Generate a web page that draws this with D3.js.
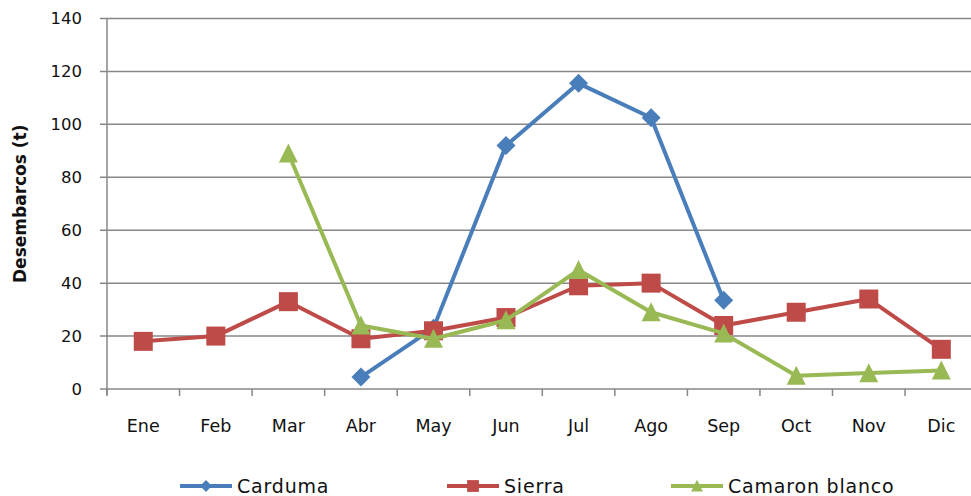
<!DOCTYPE html>
<html>
<head>
<meta charset="utf-8">
<script src="https://cdn.jsdelivr.net/npm/d3@7"></script>
<style>
  body { margin: 0; background: #fff; }
  svg { display: block; font-family: "DejaVu Sans", "Lato", sans-serif; }
</style>
</head>
<body>
<div id="chart"></div>
<script>
// data
var months = ["Ene", "Feb", "Mar", "Abr", "May", "Jun", "Jul", "Ago", "Sep", "Oct", "Nov", "Dic"];
var carduma = [null, null, null, 4.5, 23, 92, 115.5, 102.5, 33.5, null, null, null];
var sierra = [18, 20, 33, 19, 22, 27, 39, 40, 24, 29, 34, 15];
var camaron = [null, null, 89, 24, 19, 26, 45, 29, 21, 5, 6, 7];
var yTicks = [0, 20, 40, 60, 80, 100, 120, 140];

// custom marker shapes (Excel-ish)
function diamond(r) {
  return "M0," + (-r) + "L" + r + ",0L0," + r + "L" + (-r) + ",0Z";
}
function square(r) {
  return "M" + (-r) + "," + (-r) + "H" + r + "V" + r + "H" + (-r) + "Z";
}
function triangle(r) {
  return "M0," + (-r * 1.05) + "L" + r + "," + (r * 0.95) + "L" + (-r) + "," + (r * 0.95) + "Z";
}

var series = [
  {name: "Carduma", values: carduma, color: "#4a7ebb", shape: diamond, r: 9.5},
  {name: "Sierra", values: sierra, color: "#be4b48", shape: square, r: 9.5},
  {name: "Camaron blanco", values: camaron, color: "#98b954", shape: triangle, r: 9.5}
];

var width = 971, height = 496;
var margin = {top: 18.5, left: 107};

var svg = d3.select("#chart").append("svg")
    .attr("width", width)
    .attr("height", height);

var x = d3.scaleBand()
  .domain(months)
  .range([margin.left, margin.left + 12 * 72.55]);

var y = d3.scaleLinear()
  .domain([0, 140])
  .range([389, margin.top]);

// gridlines
svg.append("g")
  .selectAll("line")
  .data(yTicks)
  .enter().append("line")
    .attr("x1", margin.left - 7)
    .attr("x2", width)
    .attr("y1", function(d) { return y(d); })
    .attr("y2", function(d) { return y(d); })
    .attr("stroke", "#878787")
    .attr("stroke-width", 1.5);

// y axis line
svg.append("line")
  .attr("x1", margin.left).attr("x2", margin.left)
  .attr("y1", y(140)).attr("y2", y(0) + 6)
  .attr("stroke", "#878787").attr("stroke-width", 1.5);

// y tick labels
svg.append("g")
  .selectAll("text")
  .data(yTicks)
  .enter().append("text")
    .attr("x", margin.left - 25)
    .attr("y", function(d) { return y(d); })
    .attr("dy", "0.36em")
    .attr("text-anchor", "end")
    .attr("font-size", 16.5)
    .attr("fill", "#111")
    .text(function(d) { return d; });

// x ticks between categories
var bounds = months.map(function(m) { return x(m); }).concat([x.range()[1]]);
svg.append("g")
  .selectAll("line")
  .data(bounds)
  .enter().append("line")
    .attr("x1", function(d) { return d; })
    .attr("x2", function(d) { return d; })
    .attr("y1", y(0))
    .attr("y2", y(0) + 7)
    .attr("stroke", "#878787")
    .attr("stroke-width", 1.5);

// x labels
svg.append("g")
  .selectAll("text")
  .data(months)
  .enter().append("text")
    .attr("x", function(d) { return x(d) + x.bandwidth() / 2; })
    .attr("y", 432)
    .attr("text-anchor", "middle")
    .attr("font-size", 17.5)
    .attr("fill", "#111")
    .text(function(d) { return d; });

// y axis title
svg.append("text")
  .attr("transform", "translate(20," + y(70) + ") rotate(-90)")
  .attr("text-anchor", "middle")
  .attr("dy", "0.35em")
  .attr("font-size", 17)
  .attr("font-weight", "bold")
  .attr("fill", "#111")
  .text("Desembarcos (t)");

var line = d3.line()
  .defined(function(d) { return d.v != null; })
  .x(function(d) { return x(d.m) + x.bandwidth() / 2; })
  .y(function(d) { return y(d.v); });

series.forEach(function(s) {
  var pts = months.map(function(m, i) { return {m: m, v: s.values[i]}; });
  var g = svg.append("g");
  g.append("path")
    .datum(pts)
    .attr("d", line)
    .attr("fill", "none")
    .attr("stroke", s.color)
    .attr("stroke-width", 4)
    .attr("stroke-linejoin", "round");
  g.selectAll("path.mark")
    .data(pts.filter(function(d) { return d.v != null; }))
    .enter().append("path")
      .attr("class", "mark")
      .attr("d", s.shape(s.r))
      .attr("transform", function(d) {
        return "translate(" + (x(d.m) + x.bandwidth() / 2) + "," + y(d.v) + ")";
      })
      .attr("fill", s.color);
});

// legend
var legendX = [180, 447, 671];
var legend = svg.append("g")
  .selectAll("g")
  .data(series)
  .enter().append("g")
    .attr("transform", function(d, i) { return "translate(" + legendX[i] + ",486)"; });

legend.append("line")
  .attr("x1", 0).attr("x2", 52)
  .attr("stroke", function(d) { return d.color; })
  .attr("stroke-width", 4);

legend.append("path")
  .attr("d", function(d) { return d.shape(d.r * 0.62); })
  .attr("transform", "translate(26,0)")
  .attr("fill", function(d) { return d.color; });

legend.append("text")
  .attr("x", 57)
  .attr("dy", "0.36em")
  .attr("font-size", 19)
  .attr("letter-spacing", 0.8)
  .attr("fill", "#111")
  .text(function(d) { return d.name; });
</script>
</body>
</html>
